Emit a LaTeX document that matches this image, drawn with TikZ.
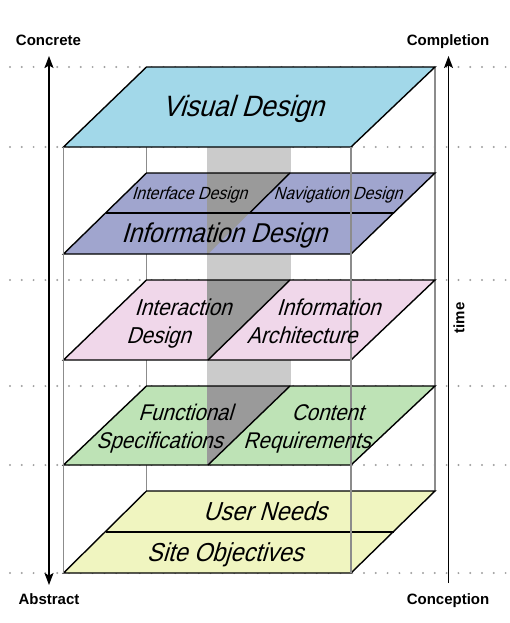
\documentclass[tikz,border=0pt]{standalone}
\usepackage{fontspec}
\setmainfont{Liberation Sans}
\newfontfamily\lblfam{Liberation Sans}[FakeSlant=0.3,FakeStretch=0.9]
\usetikzlibrary{arrows.meta}
\definecolor{vblue}{HTML}{A2D8E9}
\definecolor{ilav}{HTML}{A0A5CE}
\definecolor{ppink}{HTML}{F0D7EA}
\definecolor{fgreen}{HTML}{BEE3B6}
\definecolor{uyellow}{HTML}{F0F5C0}
\definecolor{collight}{HTML}{CBCBCB}
\definecolor{coldark}{HTML}{9A9A9A}
\definecolor{guidegray}{HTML}{8C8C8C}
\definecolor{dotgray}{HTML}{A0A0A0}
\newcommand\plf[1]{\lblfam\fontsize{#1}{#1}\selectfont}
\begin{document}
\begin{tikzpicture}[x=1pt,y=-1pt,
  plane/.style={draw=black,line width=1.4pt,line join=miter},
  divider/.style={draw=black,line width=1.4pt},
  guide/.style={draw=guidegray,line width=1.8pt},
  dots/.style={draw=dotgray,line width=2.2pt,line cap=round,dash pattern=on 0pt off 11.8pt},
  lab/.style={inner sep=0pt,anchor=base},
  side/.style={inner sep=0pt,anchor=base,font=\bfseries\fontsize{15}{18}\selectfont},
  axis/.style={line width=1.3pt,draw=black},
  tipshape/.tip={Stealth[length=12pt,width=9pt,inset=2.5pt]}
]
\useasboundingbox (0,0) rectangle (510,623);
% dotted level lines
\foreach \yy in {67,147,280,386,465,573}
  \draw[dots] (-1.8,\yy) -- (512,\yy);
% back guide lines
\draw[guide] (146.5,147) -- (146.5,491);
\draw[guide] (435,67) -- (435,491);
% light grey column
\fill[collight] (207,147) rectangle (291,465);
% Visual Design plane
\fill[vblue] (146.5,67) -- (435,67) -- (351,147) -- (63.5,147) -- cycle;
\draw[plane] (146.5,67) -- (435,67) -- (351,147) -- (63.5,147) -- cycle;
% Information Design plane
\fill[ilav] (146.5,173) -- (435,173) -- (351,254) -- (63.5,254) -- cycle;
\fill[coldark] (207,173) -- (290,173) -- (208,254) -- (207,254) -- cycle;
\draw[plane] (146.5,173) -- (435,173) -- (351,254) -- (63.5,254) -- cycle;
\draw[divider] (105.5,213) -- (393.5,213);
\draw[divider] (290,173) -- (249.5,213);
% Interaction / Information Architecture plane
\fill[ppink] (146.5,280) -- (435,280) -- (351,360) -- (63.5,360) -- cycle;
\fill[coldark] (207,280) -- (290,280) -- (208,360) -- (207,360) -- cycle;
\draw[plane] (146.5,280) -- (435,280) -- (351,360) -- (63.5,360) -- cycle;
\draw[divider] (290,280) -- (208,360);
% Functional / Content plane
\fill[fgreen] (146.5,386) -- (435,386) -- (351,465) -- (63.5,465) -- cycle;
\fill[coldark] (207,386) -- (290,386) -- (208,465) -- (207,465) -- cycle;
\draw[plane] (146.5,386) -- (435,386) -- (351,465) -- (63.5,465) -- cycle;
\draw[divider] (290,386) -- (208,465);
% User Needs / Site Objectives plane
\fill[uyellow] (146.5,491) -- (435,491) -- (351,573) -- (63.5,573) -- cycle;
\draw[plane] (146.5,491) -- (435,491) -- (351,573) -- (63.5,573) -- cycle;
\draw[divider] (105.5,532) -- (393.5,532);
% front guide lines
\draw[guide] (63.5,147) -- (63.5,573);
\draw[guide] (351,147) -- (351,573);
% plane labels
\node[lab,font=\plf{29.4}] (visual) at (243,117) {Visual Design};
\node[lab,font=\plf{17.6}] (iface) at (189.5,199) {Interface Design};
\node[lab,font=\plf{17.6}] (nav) at (338,199) {Navigation Design};
\node[lab,font=\plf{27.2}] (info) at (224,242) {Information Design};
\node[lab,font=\plf{23}] (interaction) at (183,315) {Interaction};
\node[lab,font=\plf{23}] (design) at (158.5,343) {Design};
\node[lab,font=\plf{23}] (information) at (328.5,315) {Information};
\node[lab,font=\plf{23}] (archi) at (302,343) {Architecture};
\node[lab,font=\plf{22.7}] (functional) at (185.5,420) {Functional};
\node[lab,font=\plf{22.7}] (specs) at (159.5,448) {Specifications};
\node[lab,font=\plf{22.7}] (content) at (327.5,420) {Content};
\node[lab,font=\plf{22.7}] (requirements) at (307,448) {Requirements};
\node[lab,font=\plf{26}] (userneeds) at (265,520) {User Needs};
\node[lab,font=\plf{26}] (siteobj) at (225,561) {Site Objectives};
% axes
\coordinate (lt) at (49,56);
\coordinate (lb) at (49,585);
\coordinate (rt) at (448.5,56);
\coordinate (rb) at (448.5,583);
\draw[axis,{tipshape}-{tipshape}] (lb) -- (lt);
\draw[axis,-{tipshape}] (rb) -- (rt);
% side labels
\node[side] (concrete) at (48.5,46) {Concrete};
\node[side] (completion) at (448,46) {Completion};
\node[side] (abstract) at (49,604) {Abstract};
\node[side] (conception) at (448,604) {Conception};
\node[inner sep=0pt,rotate=90,font=\bfseries\fontsize{15}{18}\selectfont] (time) at (459,318) {time};
\end{tikzpicture}
\end{document}
